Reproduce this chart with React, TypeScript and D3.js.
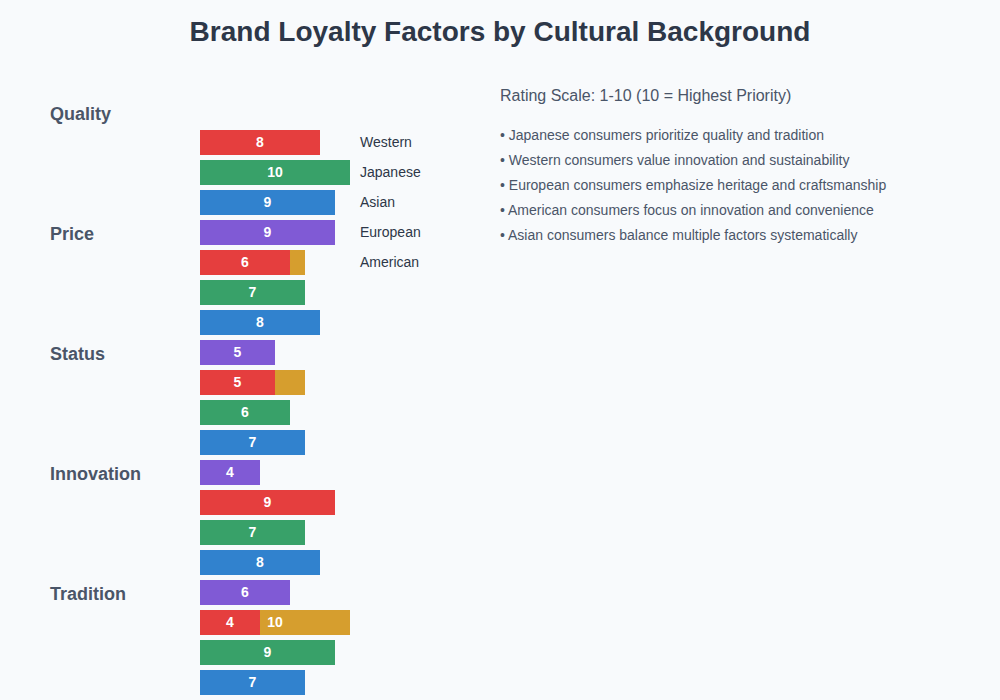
import { useEffect, useRef } from 'react'
import * as d3 from 'd3'

const FACTORS = ['Quality', 'Price', 'Status', 'Innovation', 'Tradition']
const CULTURES = ['Western', 'Japanese', 'Asian', 'European', 'American']
// values per culture, in FACTORS order
const WESTERN = [8, 6, 5, 9, 4]
const JAPANESE = [10, 7, 6, 7, 9]
const ASIAN = [9, 8, 7, 8, 7]
const EUROPEAN = [9, 5, 4, 6, 8]
const AMERICAN = [7, 7, 8, 10, 3]
const SERIES = [WESTERN, JAPANESE, ASIAN, EUROPEAN, AMERICAN]
const COLORS = ['#e53e3e', '#38a169', '#3182ce', '#805ad5', '#d69e2e']
const NOTES = [
  '• Japanese consumers prioritize quality and tradition',
  '• Western consumers value innovation and sustainability',
  '• European consumers emphasize heritage and craftsmanship',
  '• American consumers focus on innovation and convenience',
  '• Asian consumers balance multiple factors systematically',
]

export default function App() {
  const svgRef = useRef<SVGSVGElement>(null)

  useEffect(() => {
    document.body.style.margin = '0'
    if (!svgRef.current) return
    const svg = d3.select(svgRef.current)
    svg.selectAll('*').remove()

    const W = 1000
    const H = 700
    const font = '"Liberation Sans", Arial, sans-serif'
    svg.attr('width', W).attr('height', H).attr('font-family', font)

    svg.append('rect').attr('width', W).attr('height', H).attr('fill', '#f8fafc')

    // Title
    svg.append('text')
      .attr('x', W / 2).attr('y', 41)
      .attr('text-anchor', 'middle').attr('font-size', 28).attr('font-weight', 700)
      .attr('fill', '#2d3748')
      .text('Brand Loyalty Factors by Cultural Background')

    const x = d3.scaleLinear().domain([0, 10]).range([0, 150])
    const groupY = d3.scaleBand<string>().domain(FACTORS).range([130, 130 + 120 * FACTORS.length])
    const rowY = d3.scaleBand<string>().domain(CULTURES).range([0, 150])
    const barH = 25
    const g = svg.append('g').attr('transform', 'translate(200,0)')

    FACTORS.forEach((f, fi) => {
      svg.append('text')
        .attr('x', 50).attr('y', groupY(f)! - 10)
        .attr('font-size', 18).attr('font-weight', 700).attr('fill', '#4a5568')
        .text(f)

      CULTURES.forEach((c, ci) => {
        const v = SERIES[ci][fi]
        const y = groupY(f)! + rowY(c)!
        if (y >= H) return // rows below the fold are not shown
        g.append('rect')
          .attr('x', 0).attr('y', y)
          .attr('width', x(v)).attr('height', barH)
          .attr('fill', COLORS[ci])
        g.append('text')
          .attr('x', x(v) / 2).attr('y', y + 17)
          .attr('text-anchor', 'middle')
          .attr('font-size', 14).attr('font-weight', 700).attr('fill', '#fff')
          .text(v)
      })
    })

    // Legend (text only)
    CULTURES.forEach(c => {
      svg.append('text')
        .attr('x', 360).attr('y', 130 + rowY(c)! + 17)
        .attr('font-size', 14).attr('fill', '#2d3748')
        .text(c)
    })

    // Notes
    svg.append('text')
      .attr('x', 500).attr('y', 101)
      .attr('font-size', 16).attr('fill', '#4a5568')
      .text('Rating Scale: 1-10 (10 = Highest Priority)')

    NOTES.forEach((n, i) => {
      svg.append('text')
        .attr('x', 500).attr('y', 140 + i * 25)
        .attr('font-size', 14).attr('fill', '#4a5568')
        .text(n)
    })
  }, [])

  return <svg ref={svgRef} style={{ display: 'block' }} />
}
